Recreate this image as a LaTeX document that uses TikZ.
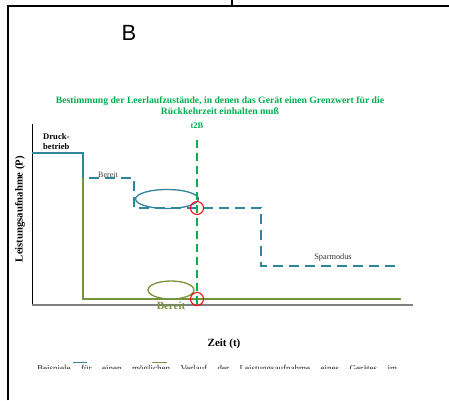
\documentclass[tikz,border=0pt]{standalone}
\usepackage{fontspec}
\usetikzlibrary{shapes.geometric}
\setmainfont{Liberation Serif}
\newfontfamily\arialfont{Liberation Sans}
\definecolor{curveblue}{HTML}{31859C}
\definecolor{curveolive}{HTML}{77933C}
\definecolor{markgreen}{HTML}{00B050}
\definecolor{axisgray}{HTML}{808080}
\begin{document}
\begin{tikzpicture}[x=1pt,y=-1pt,
  frameline/.style={black,line width=1.4pt},
  bluesolid/.style={curveblue,line width=1.8pt},
  bluedash/.style={curveblue,line width=1.8pt,dash pattern=on 10pt off 6pt},
  olivesolid/.style={curveolive,line width=1.8pt},
  markline/.style={markgreen,line width=1.6pt,dash pattern=on 8pt off 5pt},
  hit/.style={draw=red,line width=1pt,circle,minimum size=13pt,inner sep=0pt},
  blueoval/.style={draw=curveblue,line width=1.3pt,ellipse,inner sep=0pt},
  oliveoval/.style={draw=curveolive,line width=1.3pt,ellipse,inner sep=0pt},
  lbl/.style={inner sep=0pt,align=center}]
\useasboundingbox (0,0) rectangle (449,400);
\fill[white] (0,0) rectangle (449,400);

% outer frame and top tick
\coordinate (fl) at (8,400);
\coordinate (ftl) at (8,6);
\coordinate (ftr) at (449,6);
\draw[frameline] (fl) -- (ftl) -- (ftr);
\coordinate (tk1) at (232,0);
\coordinate (tk2) at (232,6);
\draw[black,line width=2.2pt] (tk1) -- (tk2);

% panel letter
\node[lbl] (letter) at (129,33) {\arialfont\fontsize{22}{24}\selectfont B};

% heading
\node[lbl,markgreen,font=\bfseries\fontsize{9.7}{11}\selectfont] (title) at (220,106)
  {Bestimmung der Leerlaufzustände, in denen das Gerät einen Grenzwert für die\\Rückkehrzeit einhalten muß};
\node[lbl,markgreen,font=\bfseries\fontsize{8.5}{10}\selectfont] (t2b) at (197,126) {t2B};

% axes
\coordinate (origin) at (32,305);
\coordinate (ytop) at (32,124);
\coordinate (xend) at (413,305);
\draw[black,line width=1pt] (ytop) -- (origin);
\draw[axisgray,line width=1.8pt] (origin) -- (xend);
\node[lbl,rotate=90,font=\bfseries\fontsize{10.7}{12}\selectfont] (ylab) at (20,209) {Leistungsaufnahme (P)};
\node[lbl,font=\bfseries\fontsize{11}{12}\selectfont] (xlab) at (224,344) {Zeit (t)};

% olive course
\coordinate (o1) at (83,178);
\coordinate (o2) at (83,299);
\coordinate (o3) at (401,299);
\draw[olivesolid] (o1) -- (o2) -- (o3);

% blue course
\coordinate (b0) at (32,153);
\coordinate (b1) at (83,153);
\coordinate (b2) at (83,178);
\draw[bluesolid] (b0) -- (b1) -- (b2);
\coordinate (b3) at (89,178);
\coordinate (b4) at (134,178);
\coordinate (b5) at (134,208);
\coordinate (b6) at (261,208);
\coordinate (b7) at (261,266);
\coordinate (b8) at (400,266);
\draw[bluedash] (b3) -- (b4) -- (b5) -- (b6) -- (b7) -- (b8);

% labels on the courses
\node[lbl,align=left,anchor=west,font=\bfseries\fontsize{8.6}{10}\selectfont] (druck) at (43,142) {Druck-\\betrieb};
\node[lbl,black!75,font=\fontsize{8}{9}\selectfont] (bereitb) at (108,175) {Bereit};
\node[lbl,black!80,font=\fontsize{8.3}{9}\selectfont] (spar) at (333,257) {Sparmodus};
\node[lbl,curveolive,font=\bfseries\fontsize{11}{12}\selectfont] (bereito) at (171,306) {Bereit};

% marked idle states
\node[blueoval,minimum width=63pt,minimum height=19pt] (ovb) at (167,199) {};
\node[oliveoval,minimum width=46pt,minimum height=18pt] (ovo) at (171,290) {};

% time marker t2B
\coordinate (m1) at (197,140);
\coordinate (m2) at (197,306);
\draw[markline] (m1) -- (m2);
\node[hit] (hb) at (197,208) {};
\node[hit] (ho) at (197,299) {};

% caption, cut at the lower edge
\begin{scope}
\clip (10,350) rectangle (449,368.5);
\node[anchor=base west,inner sep=0pt,black!85,font=\fontsize{9}{10}\selectfont] (cap) at (37,371.5)
  {\makebox[360pt][s]{Beispiele für einen möglichen Verlauf der Leistungsaufnahme eines Gerätes im}};
\end{scope}
\coordinate (lb1) at (73,362.5);
\coordinate (lb2) at (87,362.5);
\draw[curveblue,line width=1.6pt] (lb1) -- (lb2);
\coordinate (lo1) at (152,362.5);
\coordinate (lo2) at (167,362.5);
\draw[curveolive,line width=1.6pt] (lo1) -- (lo2);
\end{tikzpicture}
\end{document}
